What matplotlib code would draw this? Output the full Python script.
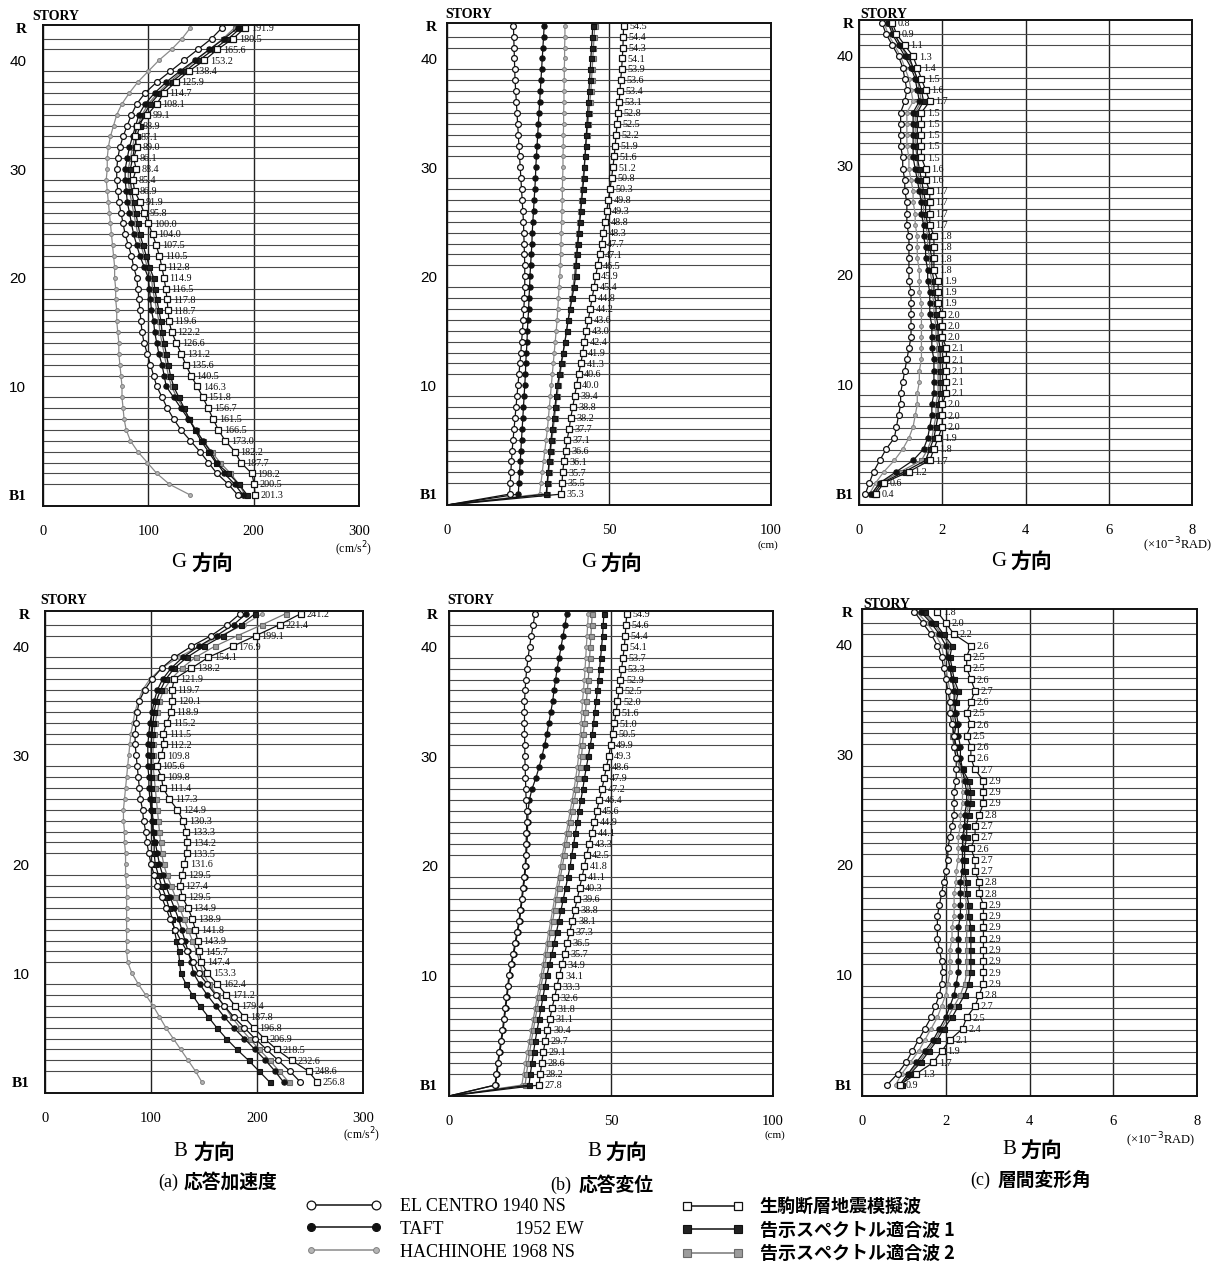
import numpy as np
import matplotlib
matplotlib.use('Agg')
import matplotlib.pyplot as plt
from matplotlib.lines import Line2D

W, H = 1230, 1271
fig = plt.figure(figsize=(W / 100, H / 100), dpi=100)
fig.patch.set_facecolor('white')

SERIF = ['Liberation Serif', 'DejaVu Serif']
SANS = ['Liberation Sans', 'DejaVu Sans']
CJK = ['Noto Sans CJK JP', 'DejaVu Sans']

# ---------------------------------------------------------------- levels
story_levels = list(range(43, -1, -1))          # R ... B1  (44 floors)
drift_levels = np.linspace(43, 0, 43)           # 43 stories
ground_level = -1
ground_disp = 0.0
story_ticks = [0, 10, 20, 30, 40, 43]
story_ticklabels = ['B1', '10', '20', '30', '40', 'R']

# ---------------------------------------------------------------- (a) acceleration, G
acc_G_ikoma = [191.9, 180.5, 165.6, 153.2, 138.4, 125.9, 114.7, 108.1, 99.1, 88.9, 87.1, 89.0, 86.1, 88.4,
               85.4, 86.9, 91.9, 95.8, 100.0, 104.0, 107.5, 110.5, 112.8, 114.9, 116.5, 117.8, 118.7, 119.6,
               122.2, 126.6, 131.2, 135.6, 140.5, 146.3, 151.8, 156.7, 161.5, 166.5, 173.0, 182.2, 187.7,
               198.2, 200.5, 201.3]
acc_G_elc = [170, 160, 147, 134, 121, 108, 97, 89, 84, 80, 76, 73, 71, 70, 70, 71, 72, 74, 76, 78, 81, 84, 86,
             89, 90, 91, 92, 93, 94, 96, 99, 102, 105, 108, 113, 118, 124, 131, 140, 149, 157, 165, 176, 185]
acc_G_taft = [185, 172, 158, 144, 130, 117, 106, 97, 91, 88, 85, 82, 80, 78, 78, 79, 80, 82, 84, 86, 89, 92, 96,
              100, 101, 102, 103, 105, 106, 108, 110, 113, 115, 117, 124, 131, 138, 145, 152, 159, 165, 172,
              182, 190]
acc_G_hach = [140, 132, 122, 110, 100, 90, 82, 75, 70, 67, 64, 62, 61, 61, 60, 61, 62, 63, 64, 65, 66, 67, 68,
              68, 69, 69, 70, 70, 71, 72, 72, 73, 74, 75, 75, 76, 77, 79, 83, 90, 99, 108, 120, 140]
acc_G_k1 = [188, 176, 162, 148, 135, 122, 111, 102, 96, 92, 89, 87, 85, 83, 83, 84, 86, 88, 90, 92, 95, 98, 101,
            105, 106, 108, 110, 112, 113, 115, 117, 119, 121, 124, 129, 134, 139, 144, 150, 157, 164, 176, 186,
            194]
acc_G_k2 = [182, 171, 158, 145, 132, 120, 109, 100, 94, 90, 87, 85, 83, 81, 81, 82, 84, 86, 88, 90, 93, 96, 99,
            103, 104, 106, 108, 110, 111, 113, 115, 117, 119, 122, 127, 133, 139, 145, 152, 160, 168, 178, 186,
            192]

# ---------------------------------------------------------------- (b) displacement, G
dis_G_ikoma = [54.5, 54.4, 54.3, 54.1, 53.9, 53.6, 53.4, 53.1, 52.8, 52.5, 52.2, 51.9, 51.6, 51.2, 50.8, 50.3,
               49.8, 49.3, 48.8, 48.3, 47.7, 47.1, 46.5, 45.9, 45.4, 44.8, 44.2, 43.6, 43.0, 42.4, 41.9, 41.3,
               40.6, 40.0, 39.4, 38.8, 38.2, 37.7, 37.1, 36.6, 36.1, 35.7, 35.5, 35.3]
dis_G_elc = [20.5, 20.6, 20.7, 20.8, 20.9, 21.0, 21.2, 21.4, 21.6, 21.8, 22.0, 22.2, 22.4, 22.6, 22.8, 23.0,
             23.2, 23.4, 23.6, 23.7, 23.8, 23.9, 24.0, 24.0, 24.0, 23.9, 23.7, 23.5, 23.3, 23.0, 22.8, 22.5,
             22.2, 21.9, 21.6, 21.3, 21.0, 20.7, 20.4, 20.1, 19.9, 19.7, 19.5, 19.3]
dis_G_taft = [30.0, 29.8, 29.6, 29.4, 29.2, 29.0, 28.8, 28.6, 28.4, 28.2, 28.0, 27.8, 27.6, 27.4, 27.3, 27.1,
              26.9, 26.7, 26.5, 26.3, 26.2, 26.0, 25.8, 25.6, 25.5, 25.3, 25.2, 25.0, 24.8, 24.7, 24.5, 24.3,
              24.2, 24.0, 23.8, 23.6, 23.4, 23.2, 23.0, 22.8, 22.6, 22.4, 22.2, 22.0]
dis_G_hach = [36.4, 36.4, 36.3, 36.3, 36.2, 36.2, 36.1, 36.1, 36.0, 36.0, 35.9, 35.9, 35.8, 35.8, 35.7, 35.6,
              35.6, 35.5, 35.4, 35.3, 35.2, 35.1, 35.0, 34.8, 34.6, 34.4, 34.2, 34.0, 33.7, 33.4, 33.1, 32.8,
              32.5, 32.2, 31.9, 31.6, 31.3, 31.0, 30.6, 30.2, 29.8, 29.4, 29.0, 28.6]
dis_G_k1 = [45.0, 44.8, 44.6, 44.4, 44.2, 44.0, 43.8, 43.6, 43.4, 43.2, 43.0, 42.8, 42.6, 42.4, 42.2, 41.9,
            41.6, 41.3, 41.0, 40.7, 40.4, 40.1, 39.9, 39.7, 39.2, 38.6, 38.0, 37.4, 36.9, 36.4, 35.8, 35.2,
            34.7, 34.1, 33.7, 33.3, 32.9, 32.5, 32.1, 31.8, 31.5, 31.2, 30.9, 30.6]
dis_G_k2 = [45.6, 45.4, 45.2, 45.0, 44.8, 44.6, 44.4, 44.1, 43.8, 43.5, 43.2, 42.9, 42.6, 42.3, 42.0, 41.7,
            41.4, 41.1, 40.8, 40.5, 40.2, 39.9, 39.6, 39.3, 38.9, 38.4, 37.9, 37.4, 36.9, 36.4, 35.9, 35.4,
            34.9, 34.4, 34.0, 33.6, 33.2, 32.8, 32.4, 32.0, 31.7, 31.4, 31.1, 30.9]

# ---------------------------------------------------------------- (c) drift angle, G
drf_G_ikoma = [0.8, 0.9, 1.1, 1.3, 1.4, 1.5, 1.6, 1.7, 1.5, 1.5, 1.5, 1.5, 1.5, 1.6, 1.6, 1.7, 1.7, 1.7, 1.7,
               1.8, 1.8, 1.8, 1.8, 1.9, 1.9, 1.9, 2.0, 2.0, 2.0, 2.1, 2.1, 2.1, 2.1, 2.1, 2.0, 2.0, 2.0, 1.9,
               1.8, 1.7, 1.2, 0.6, 0.4]
drf_G_elc = [0.55, 0.65, 0.8, 0.95, 1.05, 1.1, 1.15, 1.1, 1.0, 1.0, 1.0, 1.0, 1.05, 1.05, 1.1, 1.1, 1.15, 1.15,
             1.15, 1.2, 1.2, 1.2, 1.2, 1.2, 1.25, 1.25, 1.25, 1.25, 1.25, 1.2, 1.15, 1.1, 1.05, 1.0, 1.0, 0.95,
             0.9, 0.85, 0.65, 0.5, 0.35, 0.25, 0.15]
drf_G_taft = [0.7, 0.8, 0.95, 1.1, 1.25, 1.35, 1.4, 1.45, 1.3, 1.3, 1.3, 1.3, 1.3, 1.35, 1.4, 1.45, 1.5, 1.5,
              1.55, 1.55, 1.6, 1.6, 1.65, 1.65, 1.7, 1.7, 1.7, 1.75, 1.75, 1.75, 1.8, 1.8, 1.8, 1.8, 1.75, 1.75,
              1.7, 1.65, 1.55, 1.3, 0.9, 0.5, 0.3]
drf_G_hach = [0.6, 0.7, 0.85, 1.0, 1.1, 1.2, 1.25, 1.3, 1.15, 1.15, 1.15, 1.15, 1.2, 1.2, 1.25, 1.3, 1.3, 1.35,
              1.35, 1.4, 1.4, 1.4, 1.45, 1.45, 1.45, 1.5, 1.5, 1.5, 1.5, 1.5, 1.5, 1.45, 1.45, 1.4, 1.4, 1.35,
              1.3, 1.2, 1.05, 0.85, 0.6, 0.4, 0.25]
drf_G_k1 = [0.75, 0.85, 1.0, 1.2, 1.3, 1.4, 1.5, 1.55, 1.4, 1.4, 1.4, 1.4, 1.4, 1.45, 1.5, 1.55, 1.6, 1.6, 1.65,
            1.7, 1.7, 1.75, 1.75, 1.8, 1.8, 1.85, 1.85, 1.9, 1.9, 1.95, 1.95, 1.95, 1.95, 1.95, 1.9, 1.9, 1.85,
            1.8, 1.7, 1.6, 1.1, 0.55, 0.35]
drf_G_k2 = [0.7, 0.85, 1.0, 1.15, 1.3, 1.4, 1.45, 1.5, 1.35, 1.35, 1.35, 1.35, 1.4, 1.4, 1.45, 1.5, 1.55, 1.55,
            1.6, 1.65, 1.65, 1.7, 1.7, 1.75, 1.75, 1.8, 1.8, 1.85, 1.85, 1.9, 1.9, 1.9, 1.9, 1.9, 1.85, 1.85,
            1.8, 1.75, 1.65, 1.5, 1.0, 0.5, 0.3]

# ---------------------------------------------------------------- (a) acceleration, B
acc_B_ikoma = [241.2, 221.4, 199.1, 176.9, 154.1, 138.2, 121.9, 119.7, 120.1, 118.9, 115.2, 111.5, 112.2,
               109.8, 105.6, 109.8, 111.4, 117.3, 124.9, 130.3, 133.3, 134.2, 133.5, 131.6, 129.5, 127.4,
               129.5, 134.9, 138.9, 141.8, 143.9, 145.7, 147.4, 153.3, 162.4, 171.2, 179.4, 187.8, 196.8,
               206.9, 218.5, 232.6, 248.6, 256.8]
acc_B_elc = [184, 172, 157, 138, 122, 110, 101, 94, 89, 87, 86, 85, 85, 86, 87, 88, 89, 90, 92, 93, 95, 96, 98,
             100, 103, 106, 110, 114, 118, 123, 128, 134, 140, 145, 153, 161, 169, 178, 188, 198, 209, 220, 231,
             241]
acc_B_taft = [190, 178, 162, 145, 130, 119, 111, 106, 103, 101, 99, 98, 97, 97, 97, 98, 98, 99, 100, 101, 102,
              104, 106, 108, 111, 114, 118, 122, 126, 129, 132, 135, 138, 140, 146, 153, 161, 169, 178, 188, 198,
              208, 217, 225]
acc_B_hach = [205, 188, 166, 145, 126, 110, 99, 92, 88, 85, 83, 81, 80, 79, 78, 77, 76, 75, 74, 74, 75, 75, 76,
              76, 76, 77, 77, 77, 77, 77, 77, 77, 78, 82, 88, 95, 102, 108, 114, 121, 128, 135, 142, 148]
acc_B_k1 = [198, 185, 168, 150, 134, 122, 114, 109, 105, 103, 102, 101, 100, 100, 100, 100, 100, 101, 101, 102,
            102, 103, 103, 104, 107, 110, 114, 117, 120, 122, 124, 126, 127, 128, 133, 139, 146, 154, 162, 171,
            181, 192, 202, 212]
acc_B_k2 = [227, 205, 182, 160, 142, 129, 119, 112, 108, 106, 104, 103, 102, 102, 102, 103, 104, 105, 106, 107,
            108, 109, 110, 112, 115, 119, 123, 127, 131, 135, 139, 143, 146, 149, 155, 162, 169, 176, 184, 193,
            202, 212, 221, 230]

# ---------------------------------------------------------------- (b) displacement, B
dis_B_ikoma = [54.9, 54.6, 54.4, 54.1, 53.7, 53.3, 52.9, 52.5, 52.0, 51.6, 51.0, 50.5, 49.9, 49.3, 48.6, 47.9,
               47.2, 46.4, 45.6, 44.9, 44.1, 43.3, 42.5, 41.8, 41.1, 40.3, 39.6, 38.8, 38.1, 37.3, 36.5, 35.7,
               34.9, 34.1, 33.3, 32.6, 31.8, 31.1, 30.4, 29.7, 29.1, 28.6, 28.2, 27.8]
dis_B_elc = [26.5, 26.0, 25.4, 24.9, 24.4, 24.0, 23.7, 23.5, 23.3, 23.3, 23.3, 23.3, 23.4, 23.4, 23.5, 23.6,
             23.7, 23.8, 24.0, 24.0, 23.9, 23.8, 23.7, 23.5, 23.2, 22.8, 22.4, 22.0, 21.6, 21.0, 20.4, 19.8,
             19.1, 18.5, 18.1, 17.7, 17.3, 16.9, 16.5, 16.0, 15.5, 15.0, 14.6, 14.2]
dis_B_taft = [36.4, 35.8, 35.2, 34.6, 34.0, 33.4, 32.9, 32.4, 32.0, 31.4, 30.8, 30.2, 29.5, 28.7, 27.8, 26.8,
              25.6, 24.8, 24.4, 24.3, 24.2, 24.1, 23.9, 23.7, 23.4, 23.0, 22.6, 22.2, 21.8, 21.2, 20.6, 20.0,
              19.3, 18.7, 18.3, 17.9, 17.5, 17.1, 16.7, 16.2, 15.7, 15.2, 14.8, 14.4]
dis_B_hach = [43.0, 42.8, 42.6, 42.4, 42.2, 42.0, 41.8, 41.5, 41.2, 41.0, 40.8, 40.6, 40.3, 40.0, 39.6, 39.1,
              38.6, 38.0, 37.4, 36.8, 36.2, 35.6, 35.0, 34.4, 33.8, 33.2, 32.6, 32.0, 31.4, 30.8, 30.2, 29.6,
              29.0, 28.4, 27.8, 27.2, 26.6, 26.0, 25.4, 24.8, 24.2, 23.6, 23.0, 22.5]
dis_B_k1 = [47.8, 47.6, 47.4, 47.1, 46.8, 46.5, 46.2, 45.8, 45.4, 45.0, 44.6, 44.2, 43.6, 43.0, 42.4, 41.8,
            41.3, 40.7, 40.1, 39.6, 39.0, 38.5, 37.9, 37.4, 36.7, 36.0, 35.3, 34.6, 33.9, 33.2, 32.5, 31.8,
            31.0, 30.2, 29.6, 29.0, 28.4, 27.8, 27.2, 26.6, 26.1, 25.6, 25.1, 24.7]
dis_B_k2 = [44.2, 44.0, 43.8, 43.6, 43.4, 43.2, 43.0, 42.7, 42.4, 42.1, 41.8, 41.5, 41.2, 40.9, 40.4, 39.9,
            39.3, 38.7, 38.1, 37.4, 36.8, 36.2, 35.6, 35.0, 34.4, 33.8, 33.2, 32.6, 32.0, 31.4, 30.8, 30.2,
            29.6, 29.0, 28.4, 27.8, 27.2, 26.6, 26.0, 25.4, 24.9, 24.4, 23.9, 23.5]

# ---------------------------------------------------------------- (c) drift angle, B
drf_B_ikoma = [1.8, 2.0, 2.2, 2.6, 2.5, 2.5, 2.6, 2.7, 2.6, 2.5, 2.6, 2.5, 2.6, 2.6, 2.7, 2.9, 2.9, 2.9, 2.8,
               2.7, 2.7, 2.6, 2.7, 2.7, 2.8, 2.8, 2.9, 2.9, 2.9, 2.9, 2.9, 2.9, 2.9, 2.9, 2.8, 2.7, 2.5, 2.4,
               2.1, 1.9, 1.7, 1.3, 0.9]
drf_B_elc = [1.25, 1.45, 1.65, 1.8, 1.9, 1.95, 2.0, 2.05, 2.1, 2.1, 2.15, 2.2, 2.2, 2.25, 2.25, 2.25, 2.2, 2.2,
             2.2, 2.15, 2.1, 2.05, 2.05, 2.0, 1.95, 1.9, 1.85, 1.8, 1.8, 1.8, 1.85, 1.9, 1.93, 1.9, 1.85, 1.75,
             1.65, 1.5, 1.35, 1.2, 1.05, 0.85, 0.6]
drf_B_taft = [1.4, 1.65, 1.85, 2.0, 2.05, 2.1, 2.15, 2.2, 2.2, 2.25, 2.3, 2.3, 2.35, 2.35, 2.4, 2.45, 2.5, 2.5,
              2.45, 2.45, 2.4, 2.4, 2.4, 2.4, 2.35, 2.35, 2.35, 2.35, 2.3, 2.3, 2.3, 2.3, 2.3, 2.25, 2.2, 2.1,
              2.0, 1.85, 1.7, 1.5, 1.3, 1.1, 0.9]
drf_B_hach = [1.3, 1.55, 1.75, 1.9, 1.95, 2.0, 2.05, 2.1, 2.1, 2.15, 2.2, 2.2, 2.25, 2.3, 2.35, 2.4, 2.4, 2.4,
              2.35, 2.35, 2.3, 2.3, 2.3, 2.25, 2.25, 2.2, 2.2, 2.2, 2.15, 2.15, 2.1, 2.1, 2.1, 2.05, 2.0, 1.9,
              1.8, 1.65, 1.5, 1.35, 1.15, 0.95, 0.8]
drf_B_k1 = [1.5, 1.75, 1.95, 2.15, 2.1, 2.15, 2.2, 2.3, 2.25, 2.2, 2.25, 2.2, 2.25, 2.3, 2.4, 2.55, 2.6, 2.6,
            2.55, 2.5, 2.5, 2.45, 2.45, 2.45, 2.5, 2.5, 2.55, 2.55, 2.6, 2.6, 2.6, 2.6, 2.6, 2.55, 2.45, 2.3,
            2.15, 1.95, 1.8, 1.6, 1.4, 1.15, 0.95]
drf_B_k2 = [1.45, 1.7, 1.9, 2.1, 2.05, 2.1, 2.15, 2.25, 2.2, 2.15, 2.2, 2.15, 2.2, 2.25, 2.35, 2.5, 2.55, 2.55,
            2.5, 2.45, 2.45, 2.4, 2.4, 2.4, 2.45, 2.45, 2.5, 2.5, 2.5, 2.5, 2.5, 2.5, 2.5, 2.45, 2.35, 2.2,
            2.05, 1.9, 1.75, 1.55, 1.35, 1.1, 0.9]

# ---------------------------------------------------------------- styles / legend
series_keys = ['HACH', 'K2', 'K1', 'TAFT', 'ELC', 'IKOMA']
STY = {
    'ELC': dict(color='#111111', marker='o', mfc='white', mec='#111111', ms=4.2, mew=0.9, lw=0.9),
    'TAFT': dict(color='#111111', marker='o', mfc='#111111', mec='#111111', ms=3.8, mew=0.8, lw=0.9),
    'HACH': dict(color='#8a8a8a', marker='o', mfc='#b5b5b5', mec='#808080', ms=2.8, mew=0.7, lw=0.9),
    'IKOMA': dict(color='#111111', marker='s', mfc='white', mec='#111111', ms=4.0, mew=0.9, lw=0.9),
    'K1': dict(color='#111111', marker='s', mfc='#222222', mec='#111111', ms=3.6, mew=0.8, lw=0.9),
    'K2': dict(color='#777777', marker='s', mfc='#9c9c9c', mec='#6a6a6a', ms=3.6, mew=0.8, lw=0.9),
}
LBL = {'ELC': 'EL CENTRO 1940 NS', 'TAFT': 'TAFT' + ' ' * 16 + '1952 EW', 'HACH': 'HACHINOHE 1968 NS',
       'IKOMA': '生駒断層地震模擬波', 'K1': '告示スペクトル適合波 1', 'K2': '告示スペクトル適合波 2'}


def rect(l, t, r, b):
    return [l / W, 1 - b / H, (r - l) / W, (b - t) / H]


def P(x, y):
    return x / W, 1 - y / H


def panel(rc, xmax, xticks, data, ann, levels, ypad, disp=False):
    ax = fig.add_axes(rect(*rc))
    ax.set_xlim(0, xmax)
    ax.set_ylim(ground_level, 43.25)
    ax.set_yticks(story_ticks)
    ylabs = ax.set_yticklabels(story_ticklabels)
    ax.set_yticks(range(0, 44), minor=True)
    ax.set_xticks(xticks)
    xlabs = ax.set_xticklabels([str(t) for t in xticks])
    ax.tick_params(axis='both', which='both', length=0)
    ax.tick_params(axis='x', pad=14, labelsize=10.5)
    ax.tick_params(axis='y', pad=ypad, labelsize=11)
    for t in ylabs:
        t.set_fontfamily(SERIF if t.get_text() in ('R', 'B1') else SANS)
        if t.get_text() in ('R', 'B1'):
            t.set_fontweight('bold')
    for t in xlabs:
        t.set_fontfamily(SERIF)
    ax.grid(axis='x', which='major', color='#222222', lw=1.0)
    ax.grid(axis='y', which='minor', color='#4a4a4a', lw=0.8)
    ax.grid(axis='y', which='major', visible=False)
    ax.set_axisbelow(True)
    for s in ax.spines.values():
        s.set_linewidth(1.4)
        s.set_color('#111111')
    for z, key in enumerate(series_keys):
        st = STY[key]
        vals = data[key]
        if disp:
            ax.plot([vals[-1], ground_disp], [levels[-1], ground_level], color=st['color'],
                    lw=st['lw'], zorder=2 + z, clip_on=False)
        ax.plot(vals, levels, zorder=3 + z, clip_on=False, **st)
    for v, lv in zip(ann, levels):
        ax.annotate(f'{v:.1f}', (v, lv), xytext=(4, -0.5), textcoords='offset points', fontsize=7.3,
                    va='center', ha='left', family=SERIF, color='#111111', zorder=20,
                    annotation_clip=False)
    return ax


dG_acc = dict(ELC=acc_G_elc, TAFT=acc_G_taft, HACH=acc_G_hach, IKOMA=acc_G_ikoma, K1=acc_G_k1, K2=acc_G_k2)
dG_dis = dict(ELC=dis_G_elc, TAFT=dis_G_taft, HACH=dis_G_hach, IKOMA=dis_G_ikoma, K1=dis_G_k1, K2=dis_G_k2)
dG_drf = dict(ELC=drf_G_elc, TAFT=drf_G_taft, HACH=drf_G_hach, IKOMA=drf_G_ikoma, K1=drf_G_k1, K2=drf_G_k2)
dB_acc = dict(ELC=acc_B_elc, TAFT=acc_B_taft, HACH=acc_B_hach, IKOMA=acc_B_ikoma, K1=acc_B_k1, K2=acc_B_k2)
dB_dis = dict(ELC=dis_B_elc, TAFT=dis_B_taft, HACH=dis_B_hach, IKOMA=dis_B_ikoma, K1=dis_B_k1, K2=dis_B_k2)
dB_drf = dict(ELC=drf_B_elc, TAFT=drf_B_taft, HACH=drf_B_hach, IKOMA=drf_B_ikoma, K1=drf_B_k1, K2=drf_B_k2)

panel((43, 25, 359, 506), 300, [0, 100, 200, 300], dG_acc, acc_G_ikoma, story_levels, 12)
panel((447, 23, 771, 505), 100, [0, 50, 100], dG_dis, dis_G_ikoma, story_levels, 7, disp=True)
panel((859, 20, 1192, 505), 8, [0, 2, 4, 6, 8], dG_drf, drf_G_ikoma, drift_levels, 4)
panel((45, 611, 363, 1093), 300, [0, 100, 200, 300], dB_acc, acc_B_ikoma, story_levels, 11)
panel((449, 611, 773, 1096), 100, [0, 50, 100], dB_dis, dis_B_ikoma, story_levels, 8, disp=True)
panel((862, 609, 1197, 1096), 8, [0, 2, 4, 6, 8], dB_drf, drf_B_ikoma, drift_levels, 6.5)

# STORY labels
for x, y in [(32, 16), (445, 14), (860, 14), (40, 601), (447, 601), (863, 604)]:
    fig.text(*P(x, y), 'STORY', ha='left', va='center', fontsize=10, fontweight='bold', family=SERIF)

# unit labels
fig.text(*P(354, 549), '(cm/s$^2$)', ha='center', va='center', fontsize=8.5, family=SERIF)
fig.text(*P(362, 1135), '(cm/s$^2$)', ha='center', va='center', fontsize=8.5, family=SERIF)
fig.text(*P(768, 545), '(cm)', ha='center', va='center', fontsize=8, family=SERIF)
fig.text(*P(775, 1135), '(cm)', ha='center', va='center', fontsize=8, family=SERIF)
fig.text(*P(1177, 545), '(×10$^{-3}$RAD)', ha='center', va='center', fontsize=9, family=SERIF)
fig.text(*P(1160, 1140), '(×10$^{-3}$RAD)', ha='center', va='center', fontsize=9, family=SERIF)

# direction titles
for letter, xl, xc, y in [('G', 186, 191, 563), ('G', 596, 600, 563), ('G', 1006, 1010, 561),
                          ('B', 187, 193, 1152), ('B', 601, 605, 1152), ('B', 1016, 1020, 1150)]:
    fig.text(*P(xl, y), letter, ha='right', va='center', fontsize=15, family=SERIF)
    fig.text(*P(xc, y), '方向', ha='left', va='center', fontsize=15, fontweight='bold', family=CJK)

# sub captions
for tag, xl, xc, y, cap in [('(a)', 178, 184, 1182, '応答加速度'), ('(b)', 571, 579, 1185, '応答変位'),
                            ('(c)', 990, 998, 1180, '層間変形角')]:
    fig.text(*P(xl, y), tag, ha='right', va='center', fontsize=13, family=SERIF)
    fig.text(*P(xc, y), cap, ha='left', va='center', fontsize=13.5, fontweight='bold', family=CJK)


# legends
def handles(keys):
    hs = []
    for k in keys:
        st = dict(STY[k])
        st['ms'] = st['ms'] * 1.5
        st['lw'] = 1.1
        hs.append(Line2D([], [], **st))
    return hs


left_keys = ['ELC', 'TAFT', 'HACH']
right_keys = ['IKOMA', 'K1', 'K2']
leg1 = fig.legend(handles(left_keys), [LBL[k] for k in left_keys], loc='upper left',
                  bbox_to_anchor=P(306, 1198), frameon=False, numpoints=2, handlelength=4.2,
                  handletextpad=1.0, labelspacing=0.32, borderpad=0, borderaxespad=0,
                  prop=dict(family=SERIF, size=13))
leg2 = fig.legend(handles(right_keys), [LBL[k] for k in right_keys], loc='upper left',
                  bbox_to_anchor=P(682, 1197), frameon=False, numpoints=2, handlelength=3.4,
                  handletextpad=0.9, labelspacing=0.25, borderpad=0, borderaxespad=0,
                  prop=dict(family=CJK, size=13, weight='bold'))

fig.savefig('out.png', dpi=100, facecolor='white')
